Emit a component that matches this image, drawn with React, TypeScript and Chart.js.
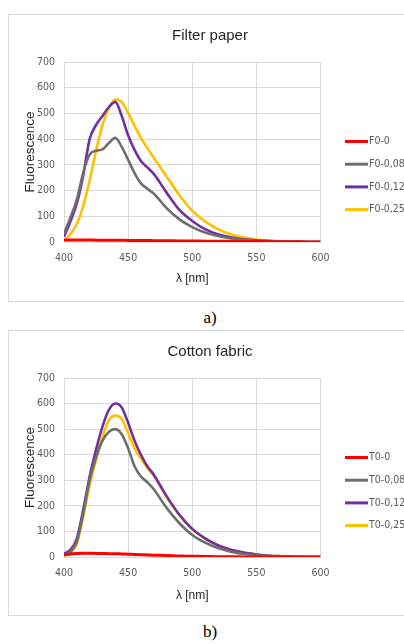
import React, { useEffect, useRef } from "react";
import { Chart, registerables } from "chart.js";

Chart.register(...registerables);

// ---- data ----
const wavelengths = [400, 405, 410, 415, 420, 425, 430, 435, 440, 445, 450, 455, 460, 465, 470, 480, 490, 500, 510, 520, 530, 540, 550, 560, 570, 580, 590, 600];

const paperTitle = "Filter paper";
const paperLabels = ["F0-0", "F0-0,08", "F0-0,12", "F0-0,25"];
const paperF0 = [8, 8, 8, 8, 8, 7, 7, 7, 7, 7, 6, 6, 6, 6, 5, 5, 4, 4, 3, 3, 2, 2, 2, 1, 1, 1, 0, 0];
const paperF008 = [32, 95, 165, 270, 340, 355, 360, 385, 405, 370, 320, 268, 228, 207, 188, 132, 88, 58, 37, 23, 14, 9, 6, 3, 2, 1, 0, 0];
const paperF012 = [20, 80, 150, 260, 400, 455, 490, 525, 545, 490, 415, 358, 315, 290, 265, 192, 125, 82, 50, 30, 18, 11, 7, 4, 2, 1, 0, 0];
const paperF025 = [6, 30, 70, 140, 240, 355, 455, 520, 554, 545, 502, 452, 405, 365, 328, 255, 182, 122, 80, 50, 30, 18, 10, 6, 3, 1, 0, 0];

const cottonTitle = "Cotton fabric";
const cottonLabels = ["T0-0", "T0-0,08", "T0-0,12", "T0-0,25"];
const cottonT0 = [8, 12, 14, 15, 15, 14, 14, 13, 13, 12, 11, 10, 9, 8, 7, 6, 4, 3, 2, 1, 1, 0, 0, 0, 0, 0, 0, 0];
const cottonT008 = [6, 20, 60, 170, 300, 390, 455, 490, 500, 480, 425, 355, 315, 292, 265, 192, 132, 86, 56, 35, 21, 12, 7, 4, 2, 1, 0, 0];
const cottonT012 = [13, 28, 72, 185, 315, 420, 510, 575, 600, 585, 525, 455, 400, 355, 322, 238, 165, 110, 73, 46, 28, 17, 10, 5, 3, 1, 0, 0];
const cottonT025 = [6, 16, 52, 157, 280, 380, 470, 535, 553, 540, 485, 425, 385, 348, 318, 234, 163, 108, 72, 46, 28, 17, 10, 5, 3, 1, 0, 0];

const seriesColors = ["#FF0000", "#6E6E6E", "#7030A0", "#FFC000"];
const xTitle = "λ [nm]";
const yTitle = "Fluorescence";
const xMin = 400, xMax = 600, xStep = 50;
const yMin = 0, yMax = 700, yStep = 100;

const NARROW = '"Liberation Sans Narrow", "Arial Narrow", "DejaVu Sans Condensed", sans-serif';
const SANS = '"Liberation Sans", Arial, sans-serif';

const sideLegend = {
  id: "sideLegend",
  afterDraw(chart: any, _args: any, opts: any) {
    const { ctx } = chart;
    ctx.save();
    ctx.font = opts.font;
    ctx.textBaseline = "middle";
    ctx.textAlign = "left";
    chart.data.datasets.forEach((ds: any, i: number) => {
      const y = opts.y + i * opts.gap;
      ctx.strokeStyle = ds.borderColor;
      ctx.lineWidth = 3;
      ctx.beginPath();
      ctx.moveTo(opts.x, y);
      ctx.lineTo(opts.x + opts.lineLen, y);
      ctx.stroke();
      ctx.fillStyle = opts.color;
      ctx.fillText(ds.label, opts.x + opts.lineLen + 1, y);
    });
    ctx.restore();
  },
};

type PanelProps = {
  title: string;
  labels: string[];
  series: number[][];
  width: number;
  height: number;
  plotBottom: number;
  xTitleCenter: number;
};

function Panel({ title, labels, series, width, height, plotBottom, xTitleCenter }: PanelProps) {
  const ref = useRef<HTMLCanvasElement>(null);
  useEffect(() => {
    if (!ref.current) return;
    const xTitleLH = 12 * 1.2;
    const chart = new Chart(ref.current, {
      type: "line",
      data: {
        datasets: series.map((vals, i) => ({
          label: labels[i],
          data: wavelengths.map((w, j) => ({ x: w, y: vals[j] })),
          borderColor: seriesColors[i],
          backgroundColor: seriesColors[i],
          borderWidth: i === 0 ? 3 : 2.6,
          pointRadius: 0,
          cubicInterpolationMode: "monotone" as const,
          fill: false,
          yAxisID: "y",
        })),
      },
      options: {
        animation: false,
        responsive: false,
        devicePixelRatio: 1,
        layout: { padding: 0 },
        plugins: {
          legend: { display: false },
          tooltip: { enabled: false },
          title: {
            display: true,
            text: title,
            color: "#262626",
            font: { family: SANS, size: 15, weight: "normal", lineHeight: 1.2 },
            padding: { top: 12, bottom: 17 },
          },
          sideLegend: {
            x: 336,
            y: 126.5,
            gap: 22.7,
            lineLen: 23,
            font: `10.5px ${NARROW}`,
            color: "#595959",
          },
        } as any,
        scales: {
          x: {
            type: "linear",
            min: xMin,
            max: xMax,
            ticks: { stepSize: xStep, color: "#595959", padding: 10, font: { family: NARROW, size: 10.5 }, maxRotation: 0 },
            grid: { color: "#d9d9d9", drawTicks: false },
            border: { color: "#d9d9d9" },
            title: {
              display: true,
              text: xTitle,
              color: "#262626",
              font: { family: SANS, size: 12, lineHeight: 1.2 },
              padding: { top: 0, bottom: height - xTitleCenter - xTitleLH / 2 },
            },
            afterFit: (scale: any) => {
              scale.height = height - plotBottom;
            },
          },
          y: {
            min: yMin,
            max: yMax,
            ticks: { stepSize: yStep, color: "#595959", padding: 9, font: { family: NARROW, size: 10.5 } },
            grid: { color: "#d9d9d9", drawTicks: false },
            border: { color: "#d9d9d9" },
            title: {
              display: true,
              text: yTitle,
              color: "#262626",
              font: { family: SANS, size: 13.5, lineHeight: 1.2 },
              padding: { top: 21 - 13.5 * 0.6, bottom: 0 },
            },
            afterFit: (scale: any) => {
              scale.width = 55;
            },
          },
          legendSpace: {
            position: "right",
            display: true,
            grid: { display: false, drawTicks: false },
            ticks: { display: false },
            border: { display: false },
            afterFit: (scale: any) => {
              scale.width = width - 311.5;
            },
          },
        } as any,
      },
      plugins: [sideLegend],
    });
    return () => chart.destroy();
  }, []);
  return <canvas ref={ref} width={width} height={height} style={{ display: "block", width, height }} />;
}

export default function App() {
  const boxStyle = (top: number, h: number): React.CSSProperties => ({
    position: "absolute",
    left: 8,
    top,
    width: 402,
    height: h,
    border: "1px solid #d9d9d9",
    background: "#fff",
    overflow: "hidden",
  });
  const capStyle = (top: number): React.CSSProperties => ({
    position: "absolute",
    left: 8,
    top,
    width: 404,
    textAlign: "center",
    fontFamily: '"Liberation Serif", "Times New Roman", serif',
    fontSize: 17,
    lineHeight: "20px",
    color: "#000",
  });
  return (
    <div style={{ position: "fixed", left: 0, top: 0, width: 404, height: 644, overflow: "hidden", background: "#fff" }}>
      <div style={boxStyle(14, 286)}>
        <Panel title={paperTitle} labels={paperLabels} series={[paperF0, paperF008, paperF012, paperF025]} width={402} height={286} plotBottom={227} xTitleCenter={263.7} />
      </div>
      <div style={capStyle(308)}>a)</div>
      <div style={boxStyle(330, 284)}>
        <Panel title={cottonTitle} labels={cottonLabels} series={[cottonT0, cottonT008, cottonT012, cottonT025]} width={402} height={284} plotBottom={226} xTitleCenter={264.5} />
      </div>
      <div style={capStyle(622)}>b)</div>
    </div>
  );
}
